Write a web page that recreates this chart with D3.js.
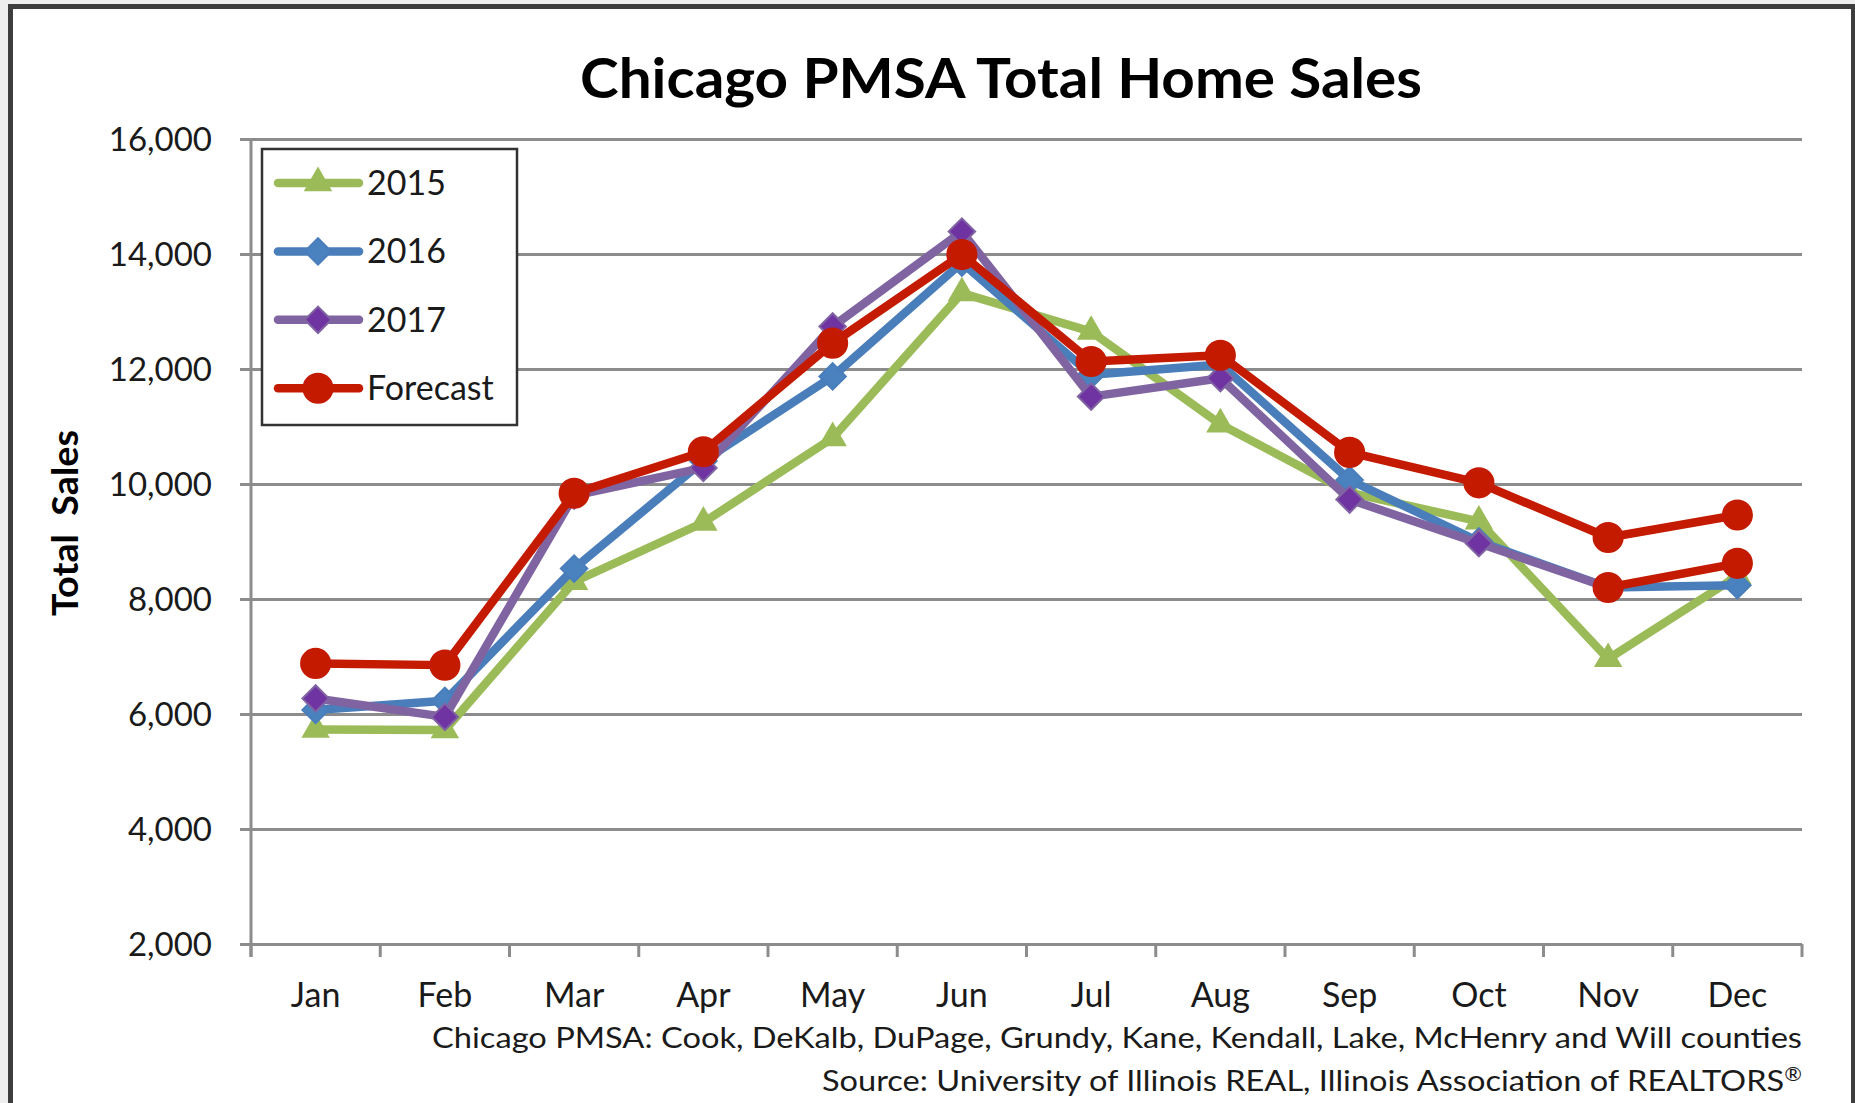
<!DOCTYPE html>
<html lang="en">
<head>
    <meta charset="utf-8">
    <script src="https://d3js.org/d3.v7.min.js"></script>
</head>
<body>
<style>
    body {
        margin: 0;
        background: #eeeeee;
        font-family: Lato, "Open Sans", sans-serif;
    }
    svg {
        display: block;
    }
    .grid line {
        stroke: #8c8c8c;
        stroke-width: 3px;
    }
</style>
<svg></svg>
</body>
<script>
    const width = 1855;
    const height = 1103;

    // values
    const months = ['Jan', 'Feb', 'Mar', 'Apr', 'May', 'Jun', 'Jul', 'Aug', 'Sep', 'Oct', 'Nov', 'Dec'];
    const sales2015 = [5730, 5720, 8300, 9330, 10800, 13320, 12650, 11040, 9850, 9350, 6960, 8400];
    const sales2016 = [6070, 6230, 8530, 10400, 11870, 13850, 11900, 12080, 10070, 9000, 8200, 8240];
    const sales2017 = [6270, 5950, 9800, 10280, 12740, 14390, 11520, 11840, 9730, 8970, 8200, null];
    const forecast = [6880, 6850, 9840, 10560, 12450, 13990, 12130, 12240, 10550, 10020, 9070, 9460];
    const forecast2017 = [null, null, null, null, null, null, null, null, null, null, 8200, 8620];
    const yTicks = [2000, 4000, 6000, 8000, 10000, 12000, 14000, 16000];

    const series = [
        {name: '2015', values: sales2015, line: '#9bbb59', fill: '#9bbb59', marker: 'triangle', legend: true},
        {name: '2016', values: sales2016, line: '#4a7ebb', fill: '#4a82c0', marker: 'diamond', legend: true},
        {name: '2017', values: sales2017, line: '#8064a2', fill: '#7034a2', marker: 'diamond', legend: true},
        {name: 'Forecast', values: forecast, line: '#c41a00', fill: '#c41a00', marker: 'circle', legend: true},
        {name: 'Forecast', values: forecast2017, line: '#c41a00', fill: '#c41a00', marker: 'circle', legend: false},
    ];

    const svg = d3.select('svg');
    svg.attr('width', width);
    svg.attr('height', height);

    // frame
    svg.append('rect').attr('x', 8).attr('y', 4).attr('width', width).attr('height', height).attr('fill', '#3d3d3d');
    svg.append('rect').attr('x', 13).attr('y', 9).attr('width', 1838).attr('height', height).attr('fill', '#ffffff');

    const plotLeft = 251, plotRight = 1802, plotTop = 139, plotBottom = 944;

    const x = d3.scaleBand().domain(months).range([plotLeft, plotRight]).padding(0);
    const y = d3.scaleLinear().domain([2000, 16000]).range([plotBottom, plotTop]);
    const cx = (i) => x(months[i]) + x.bandwidth() / 2;

    // title
    svg.append('text')
        .attr('x', 1001).attr('y', 98)
        .attr('text-anchor', 'middle')
        .attr('font-size', 55).attr('font-weight', 'bold')
        .attr('textLength', 842).attr('lengthAdjust', 'spacingAndGlyphs')
        .text('Chicago PMSA Total Home Sales');

    // gridlines + y axis
    const yAxis = svg.append('g').attr('class', 'grid')
        .attr('transform', `translate(${plotLeft},0)`)
        .call(d3.axisLeft(y).tickValues(yTicks).tickFormat(d3.format(',')).tickSize(-(plotRight - plotLeft)).tickSizeOuter(0));
    yAxis.select('.domain').remove();
    yAxis.selectAll('.tick line').attr('x1', -11);
    yAxis.selectAll('.tick text')
        .attr('x', -39).attr('dy', '0.36em')
        .attr('font-family', 'Lato, sans-serif').attr('font-size', 33).attr('fill', '#1a1a1a');

    svg.append('line')
        .attr('x1', plotLeft).attr('x2', plotLeft).attr('y1', plotTop).attr('y2', plotBottom + 13)
        .attr('stroke', '#8c8c8c').attr('stroke-width', 3);

    // x axis: ticks on band edges
    const edges = d3.range(months.length + 1).map((i) => plotLeft + i * x.step());
    svg.append('g').selectAll('line').data(edges).enter().append('line')
        .attr('x1', (d) => d).attr('x2', (d) => d)
        .attr('y1', plotBottom).attr('y2', plotBottom + 13)
        .attr('stroke', '#8c8c8c').attr('stroke-width', 3);

    svg.append('g').selectAll('text').data(months).enter().append('text')
        .attr('x', (d) => x(d) + x.bandwidth() / 2)
        .attr('y', 1007)
        .attr('text-anchor', 'middle')
        .attr('font-size', 34).attr('fill', '#1a1a1a')
        .text((d) => d);

    // y title
    svg.append('text')
        .attr('transform', 'translate(78,523) rotate(-90)')
        .attr('text-anchor', 'middle')
        .attr('font-size', 37).attr('font-weight', 'bold')
        .attr('textLength', 186).attr('lengthAdjust', 'spacingAndGlyphs')
        .style('white-space', 'pre')
        .text('Total  Sales');

    // footnotes
    svg.append('text')
        .attr('x', plotRight).attr('y', 1048).attr('text-anchor', 'end')
        .attr('font-size', 29).attr('fill', '#1a1a1a')
        .attr('textLength', 1370).attr('lengthAdjust', 'spacingAndGlyphs')
        .text('Chicago PMSA: Cook, DeKalb, DuPage, Grundy, Kane, Kendall, Lake, McHenry and Will counties');
    const source = svg.append('text')
        .attr('x', plotRight).attr('y', 1091).attr('text-anchor', 'end')
        .attr('font-size', 29).attr('fill', '#1a1a1a')
        .attr('textLength', 980).attr('lengthAdjust', 'spacingAndGlyphs');
    source.append('tspan').text('Source: University of Illinois REAL, Illinois Association of REALTORS');
    source.append('tspan').attr('font-size', 19).attr('dy', -10).text('®');

    const markerPath = (type) => {
        if (type === 'triangle') return d3.symbol(d3.symbolTriangle, 350)();
        if (type === 'diamond') return d3.symbol(d3.symbolSquare, 350)();
        return d3.symbol(d3.symbolCircle, 760)();
    };
    const markerTransform = (type, px, py) =>
        type === 'diamond' ? `translate(${px},${py}) rotate(45)` : `translate(${px},${py})`;

    const line = d3.line()
        .defined((d) => d != null)
        .x((d, i) => cx(i))
        .y((d) => y(d));

    // series
    series.forEach((s) => {
        const g = svg.append('g');
        g.append('path')
            .attr('d', line(s.values))
            .attr('fill', 'none')
            .attr('stroke', s.line)
            .attr('stroke-width', 8.5)
            .attr('stroke-linejoin', 'round')
            .attr('stroke-linecap', 'round');
        const pts = s.values.map((v, i) => ({v, i})).filter((d) => d.v != null);
        g.selectAll('path.m').data(pts).enter().append('path')
            .attr('class', 'm')
            .attr('d', markerPath(s.marker))
            .attr('transform', (d) => markerTransform(s.marker, cx(d.i), y(d.v)))
            .attr('fill', s.fill)
            .attr('stroke', s.marker === 'diamond' ? s.line : 'none')
            .attr('stroke-width', 2);
    });

    // legend
    const legend = svg.append('g');
    legend.append('rect')
        .attr('x', 262).attr('y', 149).attr('width', 255).attr('height', 276)
        .attr('fill', '#ffffff').attr('stroke', '#333333').attr('stroke-width', 2.5);
    const items = legend.selectAll('g').data(series.filter((s) => s.legend)).enter().append('g')
        .attr('transform', (d, i) => `translate(0,${183 + i * 68.4})`);
    items.append('line')
        .attr('x1', 278).attr('x2', 359)
        .attr('stroke', (d) => d.line).attr('stroke-width', 8.5).attr('stroke-linecap', 'round');
    items.append('path')
        .attr('d', (d) => markerPath(d.marker))
        .attr('transform', (d) => markerTransform(d.marker, 318, 0))
        .attr('fill', (d) => d.fill)
        .attr('stroke', (d) => d.marker === 'diamond' ? d.line : 'none')
        .attr('stroke-width', 2);
    items.append('text')
        .attr('x', 367).attr('y', 12)
        .attr('font-size', 34).attr('fill', '#1a1a1a')
        .text((d) => d.name);
</script>
</html>
